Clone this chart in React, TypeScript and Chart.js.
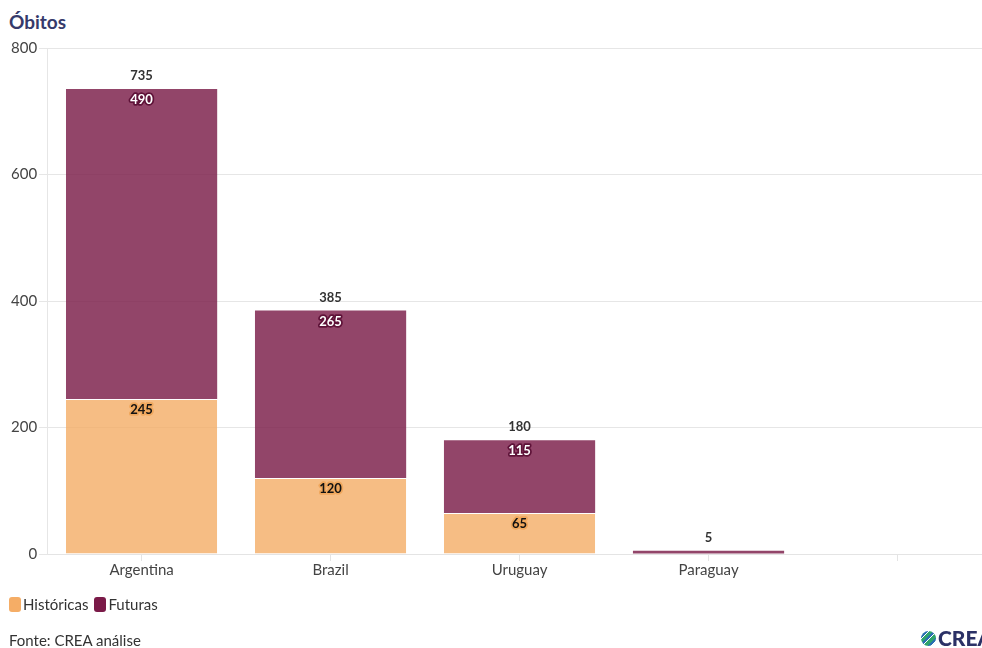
import React, { useEffect, useRef } from "react";
import { Chart, registerables } from "chart.js";
Chart.register(...registerables);

const categories = ["Argentina", "Brazil", "Uruguay", "Paraguay", ""];
const historicas: (number | null)[] = [245, 120, 65, 0, null];
const futuras: (number | null)[] = [490, 265, 115, 5, null];
const yTickValues = [0, 200, 400, 600, 800];
const seriesNames = ["Históricas", "Futuras"];

const FONT = "Lato, 'Noto Sans', sans-serif";
const barColors = ["rgba(243,170,98,0.78)", "rgba(122,28,72,0.82)"];
const legendColors = ["#f5ad66", "#7a1a48"];
const innerFill = ["#111111", "#ffffff"];
const innerStroke = ["#f0a85e", "#5e1238"];

const labelPlugin = {
  id: "barLabels",
  afterDatasetsDraw(chart: any) {
    const ctx = chart.ctx;
    ctx.save();
    ctx.font = `bold 13px ${FONT}`;
    ctx.textAlign = "center";
    ctx.textBaseline = "middle";
    ctx.lineJoin = "round";
    const tops: number[] = [];
    const totals: number[] = [];
    chart.data.datasets.forEach((ds: any, di: number) => {
      const meta = chart.getDatasetMeta(di);
      meta.data.forEach((bar: any, i: number) => {
        const v = ds.data[i];
        if (v == null) return;
        totals[i] = (totals[i] || 0) + v;
        if (tops[i] === undefined || bar.y < tops[i]) tops[i] = bar.y;
        const h = Math.abs(bar.base - bar.y);
        if (v === 0 || h < 20) return;
        ctx.lineWidth = 3.5;
        ctx.strokeStyle = innerStroke[di];
        ctx.fillStyle = innerFill[di];
        ctx.strokeText(String(v), bar.x, bar.y + 11);
        ctx.fillText(String(v), bar.x, bar.y + 11);
      });
    });
    const meta0 = chart.getDatasetMeta(0);
    ctx.fillStyle = "#333333";
    totals.forEach((t, i) => {
      if (t == null || tops[i] === undefined) return;
      ctx.fillText(String(t), meta0.data[i].x, tops[i] - 13);
    });
    ctx.restore();
  },
};

export default function App() {
  const ref = useRef<HTMLCanvasElement>(null);
  useEffect(() => {
    document.body.style.margin = "0";
    document.body.style.overflow = "hidden";
    const chart = new Chart(ref.current!, {
      type: "bar",
      data: {
        labels: categories,
        datasets: [
          {
            label: seriesNames[0],
            data: historicas,
            backgroundColor: barColors[0],
            borderColor: "rgba(255,255,255,0.7)",
            borderWidth: { top: 1, left: 0, right: 0, bottom: 0 },
            categoryPercentage: 0.8,
            barPercentage: 1,
          },
          {
            label: seriesNames[1],
            data: futuras,
            backgroundColor: barColors[1],
            borderWidth: 0,
            categoryPercentage: 0.8,
            barPercentage: 1,
          },
        ],
      },
      options: {
        animation: false,
        responsive: true,
        maintainAspectRatio: false,
        layout: { padding: { top: 48, right: 8, left: 9, bottom: 69 } },
        scales: {
          x: {
            stacked: true,
            grid: { offset: false, drawOnChartArea: false, drawTicks: true, tickLength: 7, color: "#e4e4e4" },
            border: { color: "#e4e4e4" },
            ticks: { font: { family: FONT, size: 15 }, color: "#444", padding: 0 },
          },
          y: {
            stacked: true,
            min: 0,
            max: 800,
            afterBuildTicks: (axis: any) => {
              axis.ticks = yTickValues.map((v) => ({ value: v }));
            },
            grid: { color: "#e6e6e6", tickLength: 8 },
            border: { color: "#e6e6e6" },
            ticks: { font: { family: FONT, size: 15 }, color: "#444", padding: 2 },
          },
        },
        plugins: {
          title: { display: false },
          tooltip: { enabled: false },
          legend: { display: false },
        },
      },
      plugins: [labelPlugin],
    });
    return () => chart.destroy();
  }, []);

  return (
    <div style={{ position: "relative", width: 982, height: 648, overflow: "hidden", background: "#fff" }}>
      <div
        style={{
          position: "absolute",
          left: 9,
          top: 10,
          fontFamily: FONT,
          fontWeight: 700,
          fontSize: 19,
          lineHeight: "24px",
          color: "#363a6b",
        }}
      >
        Óbitos
      </div>
      <div style={{ position: "absolute", left: 0, top: 0, width: 1000, height: 648 }}>
        <canvas ref={ref} />
      </div>
      <div
        style={{
          position: "absolute",
          left: 9,
          top: 594,
          display: "flex",
          alignItems: "center",
          fontFamily: FONT,
          fontSize: 15,
          lineHeight: "20px",
          color: "#333",
        }}
      >
        {seriesNames.map((n, i) => (
          <span key={n} style={{ display: "flex", alignItems: "center", marginRight: 6 }}>
            <span
              style={{
                display: "inline-block",
                width: 12,
                height: 15,
                borderRadius: 3,
                background: legendColors[i],
                marginRight: 2,
              }}
            />
            {n}
          </span>
        ))}
      </div>
      <div
        style={{
          position: "absolute",
          left: 9,
          top: 630,
          fontFamily: FONT,
          fontSize: 15,
          lineHeight: "20px",
          color: "#333",
        }}
      >
        Fonte: CREA análise
      </div>
      <div
        style={{
          position: "absolute",
          left: 921,
          top: 627,
          display: "flex",
          alignItems: "center",
          fontFamily: FONT,
          fontWeight: 900,
          fontSize: 21,
          lineHeight: "22px",
          color: "#2b3166",
          whiteSpace: "nowrap",
        }}
      >
        <span
          style={{
            display: "inline-block",
            width: 15,
            height: 15,
            borderRadius: "50%",
            marginRight: 2,
            background:
              "repeating-linear-gradient(135deg, #2fa36b 0 3px, #2a6fb0 3px 5px, #ffffff 5px 6px)",
          }}
        />
        CREA
      </div>
    </div>
  );
}
